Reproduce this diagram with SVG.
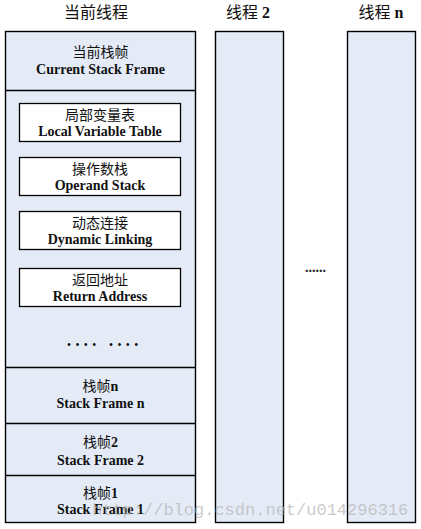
<svg xmlns="http://www.w3.org/2000/svg" width="421" height="529" viewBox="0 0 421 529">
<style>
.col{fill:#E4EBF7;stroke:#000;stroke-width:1.4}
.box{fill:#fff;stroke:#000;stroke-width:1.3}
.div{stroke:#000;stroke-width:1.4;fill:none}
.zh{font-family:"Liberation Serif","Noto Sans CJK SC",serif;font-size:14px;fill:#111;text-anchor:middle}
.en{font-family:"Liberation Serif","Noto Sans CJK SC",serif;font-size:14px;font-weight:bold;fill:#111;text-anchor:middle}
.title{font-family:"Liberation Serif","Noto Sans CJK SC",serif;font-size:16px;fill:#111;text-anchor:middle}
.b{font-weight:bold}
.dots{font-family:"Liberation Sans",sans-serif;font-size:10px;fill:#000;text-anchor:middle}
.wm{font-family:"Liberation Mono",monospace;font-size:17px;fill:#b4b4b4;fill-opacity:0.7}
</style>
<rect width="421" height="529" fill="#fff"/>
<g id="title-current"><text class="title" x="96" y="18">当前线程</text></g>
<g id="title-thread2"><text class="title" x="248" y="18">线程 <tspan class="b">2</tspan></text></g>
<g id="title-threadn"><text class="title" x="381" y="18">线程 <tspan class="b">n</tspan></text></g>

<g id="current-thread">
<rect class="col" x="5.5" y="31.5" width="190" height="491"/>
<line class="div" x1="5.5" y1="90.5" x2="195.5" y2="90.5"/>
<line class="div" x1="5.5" y1="367.5" x2="195.5" y2="367.5"/>
<line class="div" x1="5.5" y1="423.5" x2="195.5" y2="423.5"/>
<line class="div" x1="5.5" y1="475.5" x2="195.5" y2="475.5"/>
</g>
<g id="current-frame">
<text class="zh" x="100.5" y="57">当前栈帧</text>
<text class="en" x="100.5" y="74">Current Stack Frame</text>
</g>
<g id="local-variable-table">
<rect class="box" x="19.5" y="103.5" width="161" height="38"/>
<text class="zh" x="100" y="120">局部变量表</text>
<text class="en" x="100" y="136">Local Variable Table</text>
</g>
<g id="operand-stack">
<rect class="box" x="19.5" y="157.5" width="161" height="38"/>
<text class="zh" x="100" y="174">操作数栈</text>
<text class="en" x="100" y="190">Operand Stack</text>
</g>
<g id="dynamic-linking">
<rect class="box" x="19.5" y="211.5" width="161" height="38"/>
<text class="zh" x="100" y="228">动态连接</text>
<text class="en" x="100" y="244">Dynamic Linking</text>
</g>
<g id="return-address">
<rect class="box" x="19.5" y="268.5" width="161" height="38"/>
<text class="zh" x="100" y="285">返回地址</text>
<text class="en" x="100" y="301">Return Address</text>
</g>
<g id="frame-dots"><text class="dots" x="69 77.4 85.8 94.2 111 119.4 127.8 136.2" y="347.5">••••••••</text></g>
<g id="stack-frame-n">
<text class="zh" x="100.5" y="391">栈帧<tspan class="b">n</tspan></text>
<text class="en" x="100.5" y="408">Stack Frame n</text>
</g>
<g id="stack-frame-2">
<text class="zh" x="100.5" y="447">栈帧<tspan class="b">2</tspan></text>
<text class="en" x="100.5" y="465">Stack Frame 2</text>
</g>
<g id="stack-frame-1">
<text class="zh" x="100.5" y="498">栈帧<tspan class="b">1</tspan></text>
<text class="en" x="100.5" y="514">Stack Frame 1</text>
</g>

<g id="thread-2"><rect class="col" x="215.5" y="31.5" width="68" height="491"/></g>
<g id="thread-dots"><text x="315.5" y="272" font-family="Liberation Serif" font-size="14" font-weight="bold" text-anchor="middle" fill="#222">......</text></g>
<g id="thread-n"><rect class="col" x="347.5" y="31.5" width="68" height="491"/></g>

<g id="connectors"></g>
<g id="watermark"><text class="wm" x="92" y="515">http://blog.csdn.net/u014296316</text></g>
</svg>
